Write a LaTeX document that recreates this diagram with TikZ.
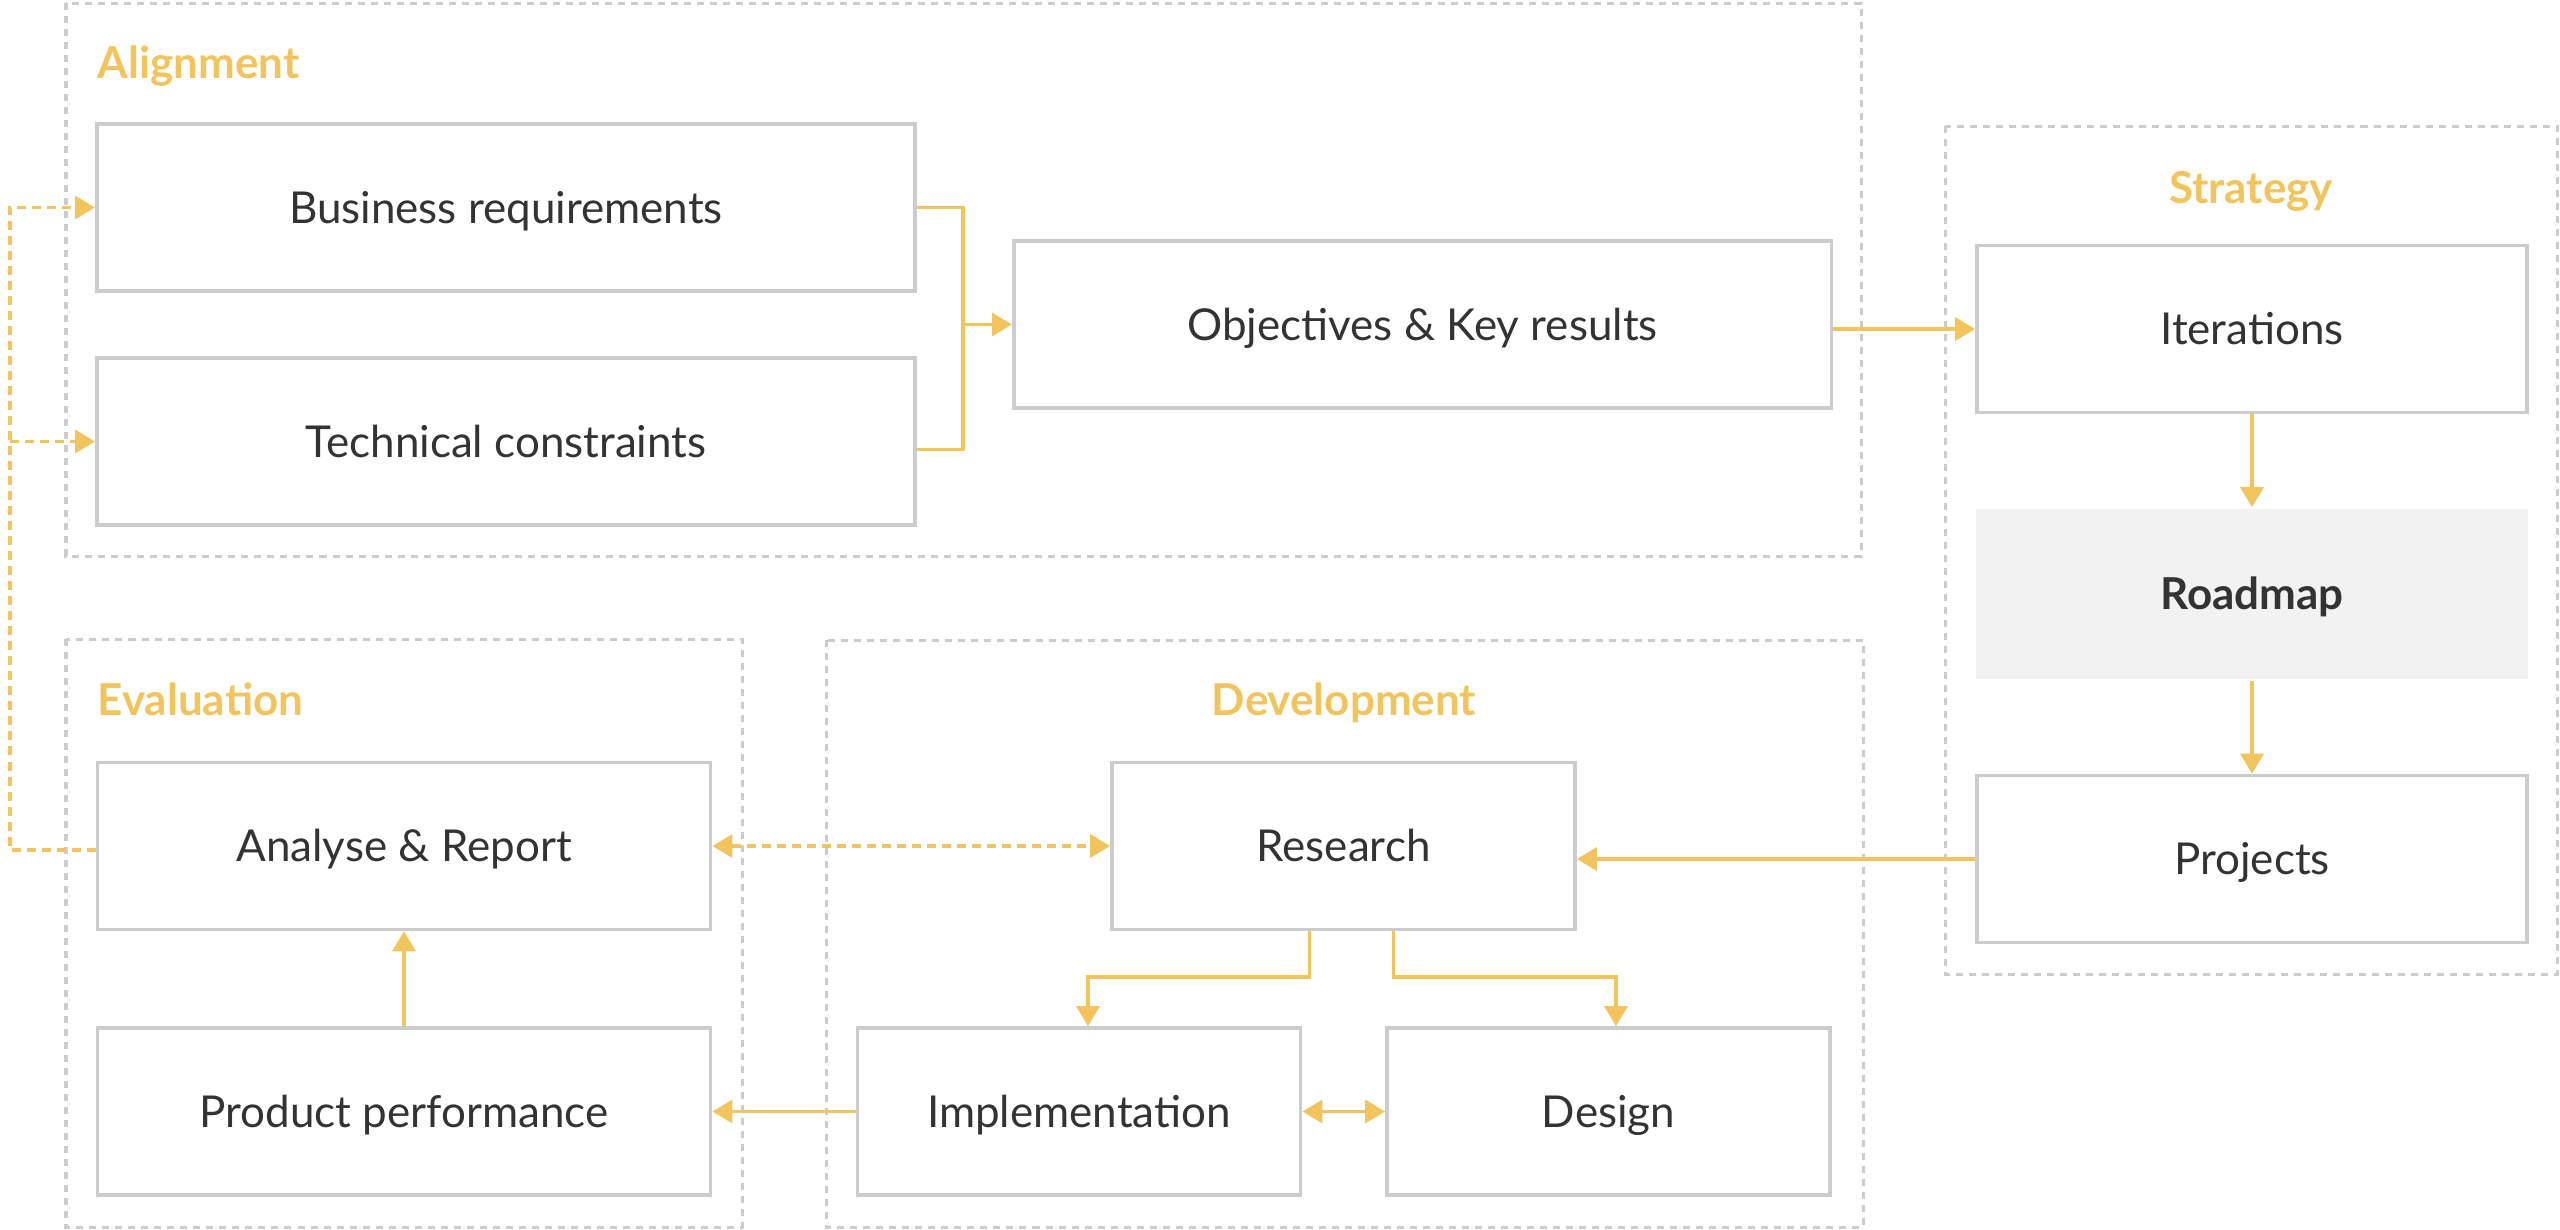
\documentclass[tikz,border=0pt]{standalone}
\usepackage{fontspec}
\setmainfont{Lato}
\usetikzlibrary{arrows.meta}
\definecolor{okryellow}{HTML}{F2C45E}
\definecolor{boxgray}{HTML}{CCCCCC}
\definecolor{ink}{HTML}{333333}
\definecolor{mapgray}{HTML}{F2F2F2}

\begin{document}
\begin{tikzpicture}[x=0.01cm,y=-0.01cm,
	box/.style={draw=boxgray,line width=0.035cm,minimum height=1.67cm,inner sep=0pt,text=ink,text height=9pt,text depth=0pt,font=\fontsize{12.5}{15}\selectfont},
	group/.style={draw=boxgray,line width=0.03cm,dash pattern=on 0.07cm off 0.06cm},
	title/.style={text=okryellow,inner sep=0pt,font=\fontsize{12.5}{15}\selectfont\bfseries},
	wire/.style={draw=okryellow,line width=0.035cm},
	link/.style={wire,-{Triangle[length=0.2cm,width=0.23cm]}},
	both/.style={wire,{Triangle[length=0.2cm,width=0.23cm]}-{Triangle[length=0.2cm,width=0.23cm]}},
	fback/.style={link,dash pattern=on 0.09cm off 0.06cm},
	fbboth/.style={both,dash pattern=on 0.09cm off 0.06cm}]
	\useasboundingbox (0,0) rectangle (2560,1229);

	\draw[group] (66,3) rectangle (1861,556);
	\draw[group] (1945,126) rectangle (2557,974);
	\draw[group] (66,639) rectangle (742,1227);
	\draw[group] (826,640) rectangle (1863,1227);

	\node[title,anchor=base west] (alignt) at (97,78) {Alignment};
	\node[title,anchor=base] (stratt) at (2251,203) {Strategy};
	\node[title,anchor=base west] (evalt) at (97,715) {Evaluation};
	\node[title,anchor=base] (devt) at (1344,715) {Development};

	\node[box,minimum width=8.18cm] (biz) at (506,207.5) {Business requirements};
	\node[box,minimum width=8.18cm] (tech) at (506,441.5) {Technical constraints};
	\node[box,minimum width=8.17cm] (okr) at (1422.5,324.5) {Objectives \& Key results};
	\node[box,minimum width=5.5cm] (iter) at (2252,329) {Iterations};
	\node[box,draw=none,fill=mapgray,minimum width=5.52cm,minimum height=1.7cm,font=\fontsize{12.5}{15}\selectfont\bfseries] (road) at (2252,594) {Roadmap};
	\node[box,minimum width=5.5cm] (proj) at (2252,859) {Projects};
	\node[box,minimum width=6.13cm] (ana) at (404,846) {Analyse \& Report};
	\node[box,minimum width=6.13cm] (prod) at (404,1111.5) {Product performance};
	\node[box,minimum width=4.63cm] (res) at (1343.5,846) {Research};
	\node[box,minimum width=4.43cm] (impl) at (1079,1111.5) {Implementation};
	\node[box,minimum width=4.43cm] (des) at (1608.5,1111.5) {Design};

	\coordinate (join) at (963,324.5);
	\coordinate (fb) at (10,850);
	\coordinate (lbend) at (1088,977);
	\coordinate (rbend) at (1616,977);

	\draw[wire] (biz.east) -| (join);
	\draw[wire] ([yshift=-0.08cm]tech.east) -| (join);
	\draw[link] (join) -- (okr.west);
	\draw[link] (okr.east |- iter.west) -- (iter.west);
	\draw[link] (iter.south) -- (road.north);
	\draw[link] (road.south) -- (proj.north);
	\draw[link] (proj.west) -- (proj.west -| res.east);
	\draw[link] ([xshift=-0.34cm]res.south) |- (lbend) -- (lbend |- impl.north);
	\draw[link] ([xshift=0.5cm]res.south) |- (rbend) -- (rbend |- des.north);
	\draw[both] (impl.east) -- (des.west);
	\draw[link] (impl.west) -- (prod.east);
	\draw[link] (prod.north) -- (ana.south);
	\draw[fbboth] (ana.east) -- (res.west);
	\draw[fback] (fb -| ana.west) -- (fb) |- (biz.west);
	\draw[fback] (fb |- tech.west) -- (tech.west);
\end{tikzpicture}
\end{document}
